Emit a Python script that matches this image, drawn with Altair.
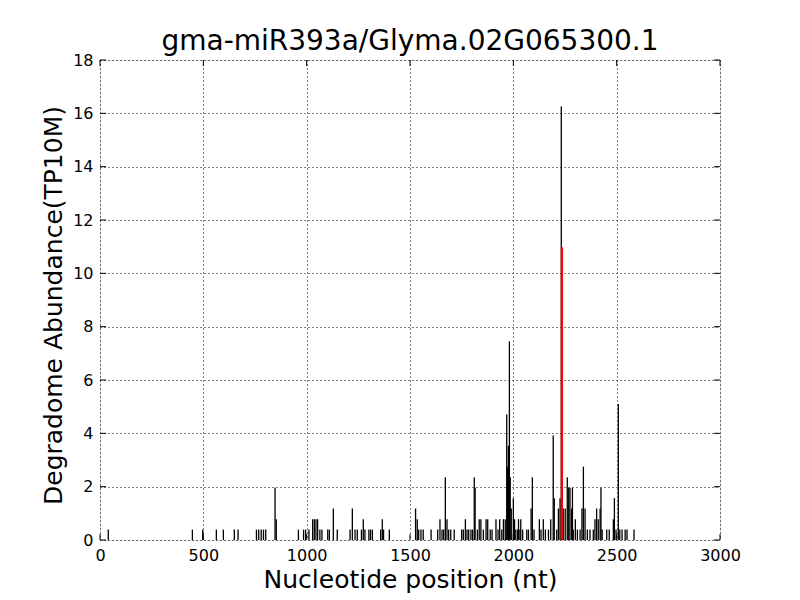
import altair as alt
import pandas as pd

title_text = "gma-miR393a/Glyma.02G065300.1"
x_title = "Nucleotide position (nt)"
y_title = "Degradome Abundance(TP10M)"

positions = [
    40, 447, 497, 563, 597, 650, 668, 757, 768, 780, 791, 802, 847, 853,
    960, 985, 995, 1011, 1029, 1037, 1045, 1053, 1064, 1074, 1102, 1110,
    1129, 1148, 1210, 1221, 1234, 1245, 1265, 1274, 1282, 1301, 1309, 1318,
    1358, 1366, 1372, 1400, 1527, 1535, 1542, 1553, 1564, 1602, 1634, 1645,
    1655, 1663, 1671, 1679, 1687, 1697, 1714, 1750, 1758, 1768, 1776, 1784,
    1795, 1803, 1811, 1815, 1826, 1835, 1843, 1855, 1868, 1876, 1888, 1897,
    1916, 1926, 1934, 1944, 1952, 1961, 1968, 1972, 1976, 1981, 1985, 1990,
    2000, 2006, 2012, 2021, 2025, 2032, 2036, 2045, 2065, 2073, 2086, 2092,
    2100, 2126, 2134, 2145, 2155, 2170, 2181, 2193, 2198, 2210, 2218, 2226,
    2232, 2242, 2251, 2261, 2268, 2274, 2282, 2286, 2290, 2300, 2310, 2323,
    2332, 2339, 2347, 2358, 2371, 2387, 2395, 2403, 2411, 2420, 2424, 2430,
    2452, 2464, 2484, 2489, 2497, 2508, 2515, 2526, 2541, 2550, 2584,
]
abundance = [
    0.39, 0.39, 0.39, 0.39, 0.39, 0.39, 0.39, 0.39, 0.39, 0.39, 0.39, 0.39, 1.96, 0.78,
    0.39, 0.39, 0.39, 0.39, 0.78, 0.78, 0.78, 0.78, 0.39, 0.39, 0.39, 0.39,
    1.18, 0.39, 0.39, 1.18, 0.39, 0.39, 0.39, 0.78, 0.39, 0.39, 0.39, 0.39,
    0.39, 0.78, 0.39, 0.39, 1.18, 0.78, 0.39, 0.39, 0.39, 0.39, 0.39, 0.78,
    0.39, 0.39, 2.35, 0.78, 0.39, 0.39, 0.39, 0.39, 0.39, 0.78, 0.39, 0.39,
    0.39, 0.39, 2.35, 1.96, 0.39, 0.78, 0.78, 0.39, 0.78, 0.78, 0.39, 0.39,
    0.78, 0.39, 0.78, 0.39, 0.78, 0.78, 4.71, 2.75, 3.53, 7.45, 2.35, 1.18,
    1.57, 0.78, 0.39, 0.39, 0.78, 0.39, 0.78, 0.39, 0.39, 0.39, 1.18, 2.35,
    0.39, 0.78, 0.39, 0.78, 0.39, 0.39, 0.78, 3.92, 1.57, 0.39, 1.18, 1.57,
    16.26, 1.18, 1.18, 2.35, 1.96, 1.96, 1.18, 1.96, 0.39, 0.78, 0.39, 0.39,
    1.18, 2.75, 1.18, 0.39, 0.39, 0.39, 0.78, 1.18, 0.78, 1.18, 1.96, 0.39,
    0.39, 0.39, 0.78, 1.57, 0.39, 5.10, 0.39, 0.39, 0.39, 0.39, 0.39,
]
target_position = [2235]
target_abundance = [10.98]

x_ticks = [0, 500, 1000, 1500, 2000, 2500, 3000]
y_ticks = [0, 2, 4, 6, 8, 10, 12, 14, 16, 18]

df = pd.DataFrame({"pos": positions, "val": abundance})
df_red = pd.DataFrame({"pos": target_position, "val": target_abundance})
df_xt = pd.DataFrame({"t": x_ticks})
df_yt = pd.DataFrame({"t": y_ticks})

FONT = "DejaVu Sans"
xscale = alt.Scale(domain=[0, 3000], nice=False, zero=False)
yscale = alt.Scale(domain=[0, 18], nice=False)

xaxis = alt.Axis(
    title=x_title, values=x_ticks, format="d", labelFont=FONT, labelFontSize=16,
    labelColor="black", labelPadding=7, tickSize=0, domain=False,
    titleFont=FONT, titleFontSize=25, titleFontWeight="normal", titleColor="black",
    titlePadding=4, grid=True, gridColor="black", gridDash=[1, 3], gridOpacity=1,
    gridWidth=1, labelFlush=False,
)
yaxis = alt.Axis(
    title=y_title, values=y_ticks, labelFont=FONT, labelFontSize=16,
    labelColor="black", labelPadding=7, tickSize=0, domain=False,
    titleFont=FONT, titleFontSize=25, titleFontWeight="normal", titleColor="black",
    titlePadding=6, titleY=245, grid=True, gridColor="black", gridDash=[1, 3],
    gridOpacity=1, gridWidth=1, labelFlush=False,
)

bars = alt.Chart(df).mark_rule(color="black", strokeWidth=1.3).encode(
    x=alt.X("pos:Q", scale=xscale, axis=xaxis),
    y=alt.Y("val:Q", scale=yscale, axis=yaxis),
    y2=alt.datum(0),
)
red = alt.Chart(df_red).mark_rule(color="red", strokeWidth=2.2).encode(
    x=alt.X("pos:Q", scale=xscale),
    y=alt.Y("val:Q", scale=yscale),
    y2=alt.datum(0),
)
xt_bottom = alt.Chart(df_xt).mark_rule(color="black", strokeWidth=1).encode(
    x=alt.X("t:Q", scale=xscale), y=alt.value(480), y2=alt.value(474)
)
xt_top = alt.Chart(df_xt).mark_rule(color="black", strokeWidth=1).encode(
    x=alt.X("t:Q", scale=xscale), y=alt.value(0), y2=alt.value(6)
)
yt_left = alt.Chart(df_yt).mark_rule(color="black", strokeWidth=1).encode(
    y=alt.Y("t:Q", scale=yscale), x=alt.value(0), x2=alt.value(6)
)
yt_right = alt.Chart(df_yt).mark_rule(color="black", strokeWidth=1).encode(
    y=alt.Y("t:Q", scale=yscale), x=alt.value(620), x2=alt.value(614)
)

chart = alt.layer(bars, red, xt_bottom, xt_top, yt_left, yt_right).properties(
    width=620,
    height=480,
    title=alt.TitleParams(
        text=title_text, font=FONT, fontSize=28, fontWeight="normal",
        color="black", anchor="middle", offset=-4,
    ),
    autosize=alt.AutoSizeParams(type="none"),
    padding={"left": 92, "top": 52, "right": 72, "bottom": 56},
).configure_view(
    stroke="black", strokeWidth=1.2
).configure(background="white")

chart.save("out.html", embed_options={"renderer": "svg", "actions": False})
